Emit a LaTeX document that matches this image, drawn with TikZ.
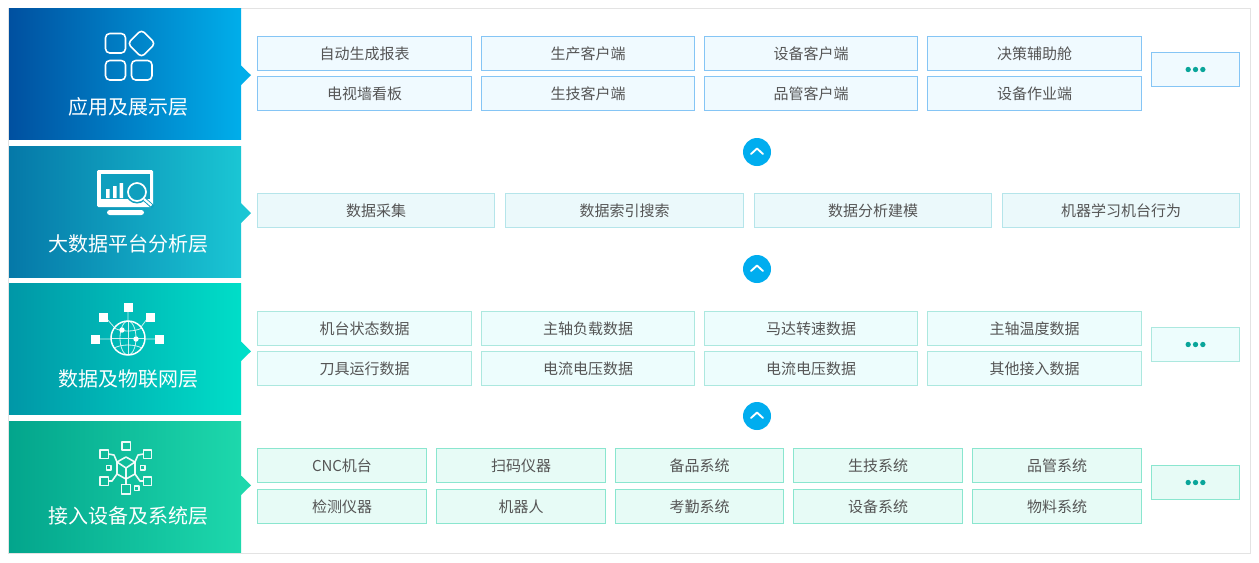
\documentclass[tikz,border=0pt]{standalone}
\usepackage{fontspec}
\setmainfont{Noto Sans CJK SC}
\usetikzlibrary{shapes.geometric}
\definecolor{txt}{HTML}{555555}
\definecolor{frameC}{HTML}{E3E3E3}
\definecolor{aL}{HTML}{0050A0}\definecolor{aR}{HTML}{00AEEA}
\definecolor{bL}{HTML}{0578A8}\definecolor{bR}{HTML}{1AC6D4}
\definecolor{cL}{HTML}{0097A7}\definecolor{cR}{HTML}{00DEC8}
\definecolor{dL}{HTML}{03A58C}\definecolor{dR}{HTML}{1DD8AC}
\definecolor{bMid}{HTML}{0F9FBE}
\tikzset{
  x=0.75pt,y=-0.75pt,
  cellbase/.style={rectangle,draw,line width=0.75pt,inner sep=0pt,outer sep=0pt,text=txt,font=\fontsize{11.25pt}{13pt}\selectfont},
  cellA/.style={cellbase,draw=cA,fill=fA},
  cellB/.style={cellbase,draw=cB,fill=fB},
  cellC/.style={cellbase,draw=cC,fill=fC},
  cellD/.style={cellbase,draw=cD,fill=fD},
  panelbox/.style={rectangle,inner sep=0pt,outer sep=0pt,minimum width=174pt,minimum height=98.7pt,shading angle=90},
  paneltext/.style={text=white,font=\fontsize{15pt}{18pt}\selectfont,inner sep=0pt},
  upbtn/.style={circle,fill=upC,minimum size=21pt,inner sep=0pt,outer sep=0pt},
  chev/.style={white,line width=1.4pt,line cap=round,line join=round},
  moredot/.style={circle,fill=dotC,minimum size=4pt,inner sep=0pt},
  icon/.style={white,line width=1.2pt,line join=round},
  thin icon/.style={white,line width=0.6pt,opacity=0.8},
}
\definecolor{cA}{HTML}{85C5F5}\definecolor{fA}{HTML}{F0FAFF}
\definecolor{cB}{HTML}{B5E5EA}\definecolor{fB}{HTML}{EBF9FB}
\definecolor{cC}{HTML}{ACE8DF}\definecolor{fC}{HTML}{EDFDFD}
\definecolor{cD}{HTML}{8AE6CF}\definecolor{fD}{HTML}{E7FBF6}
\definecolor{upC}{HTML}{00ADEF}
\definecolor{dotC}{HTML}{0AA59A}
% name, style, x1, y1, x2, y2, text
\newcommand\cellbox[7]{%
  \node[#2,minimum width={(#5-#3-1)*0.75pt},minimum height={(#6-#4-1)*0.75pt}] (#1) at ({(#3+#5)/2},{(#4+#6)/2}) {\raisebox{-0.6pt}{#7}};}
% name, style, x1, y1, x2, y2 : the "more" box with three dots
\newcommand\morebox[6]{%
  \cellbox{#1}{#2}{#3}{#4}{#5}{#6}{}%
  \node[moredot] (#1dotb) at (#1.center) {};
  \node[moredot,xshift=-5.5pt] (#1dota) at (#1.center) {};
  \node[moredot,xshift=5.5pt] (#1dotc) at (#1.center) {};}
% name, center y
\newcommand\upbutton[2]{%
  \node[upbtn] (#1) at (757,#2) {};
  \draw[chev] ([xshift=-4.5pt,yshift=-1.5pt]#1.center) -- ([yshift=2.6pt]#1.center) -- ([xshift=4.5pt,yshift=-1.5pt]#1.center);}
\begin{document}
\begin{tikzpicture}
\useasboundingbox (0,0) rectangle (1259,562);
\fill[white] (0,0) rectangle (1259,562);
\draw[frameC,line width=0.75pt] (8.5,8.5) rectangle (1250.5,553.5);

% panels
\node[panelbox,left color=aL,right color=aR] (p1) at (125,73.8) {};
\node[panelbox,left color=bL,right color=bR] (p2) at (125,211.8) {};
\node[panelbox,left color=cL,right color=cR] (p3) at (125,348.8) {};
\node[panelbox,left color=dL,right color=dR] (p4) at (125,486.8) {};
\fill[aR] (241,65.5) -- (251,75.2) -- (241,85) -- cycle;
\fill[bR] (241,203) -- (251,213) -- (241,223) -- cycle;
\fill[cR] (241,341.5) -- (251,351.3) -- (241,361) -- cycle;
\fill[dR] (241,475.5) -- (251,485.3) -- (241,495) -- cycle;
\node[paneltext] (t1) at (128,107) {应用及展示层};
\node[paneltext] (t2) at (128,244) {大数据平台分析层};
\node[paneltext] (t3) at (128,379) {数据及物联网层};
\node[paneltext] (t4) at (128,516) {接入设备及系统层};

% icon 1
\begin{scope}[icon]
\draw[rounded corners=3.2pt] (105.5,33.5) rectangle (125.5,53);
\draw[rounded corners=3.2pt] (105.5,60.5) rectangle (125.5,80);
\draw[rounded corners=3.2pt] (131.5,60.5) rectangle (152,80);
\draw[rounded corners=3pt] (141.5,29.7) -- (155.3,43.5) -- (141.5,57.3) -- (127.7,43.5) -- cycle;
\end{scope}

% icon 2
\fill[white,rounded corners=1pt] (97,170) rectangle (153,207);
\fill[bMid] (100.5,173.5) rectangle (149.5,199);
\fill[white,rounded corners=2pt] (107,210) rectangle (144,215);
\fill[white] (106,189) rectangle (109.5,198) (113,186) rectangle (116.5,198) (119.5,183) rectangle (123,198);
\draw[bMid,line width=3pt] (143.5,198.5) -- (153,207);
\fill[bMid] (137,192) circle (11.5);
\draw[white,line width=1.3pt] (137,192) circle (9);
\draw[white,line width=1.6pt] (144,199) -- (151.5,205.5);

% icon 3
\draw[thin icon] (128,311) -- (128,321) (107,319) -- (114,327) (147,319) -- (141,327) (99,339) -- (111,339) (145,339) -- (155,339);
\draw[white,line width=1.1pt] (128,338) circle (17);
\draw[thin icon] (128,321) -- (128,355) (111,338) -- (145,338);
\draw[thin icon] (128,338) ellipse (8 and 17);
\draw[thin icon] (114,328) .. controls (122,332) and (134,332) .. (142,328);
\draw[thin icon] (114,348) .. controls (122,344) and (134,344) .. (142,348);
\fill[white] (123.5,302.5) rectangle (132.5,311.5);
\fill[white] (98.5,312.5) rectangle (107.5,321.5);
\fill[white] (145.5,312.5) rectangle (154.5,321.5);
\fill[white] (90.5,334.5) rectangle (99.5,343.5);
\fill[white] (154.5,334.5) rectangle (163.5,343.5);
\fill[white] (122,330) circle (2.7) (136,339) circle (2.7);

% icon 4
\begin{scope}[white,line width=1.2pt,line join=round,opacity=0.92]
\draw (126,457) -- (135,462) -- (135,474) -- (126,479) -- (117,474) -- (117,462) -- cycle;
\draw (117,462) -- (126,468) -- (135,462) (126,468) -- (126,479);
\draw (108.5,454) -- (114,455) -- (117,462);
\draw (143.5,454) -- (138,455) -- (135,462);
\draw (108.5,481) -- (112,481) -- (117,474);
\draw (143.5,481) -- (140,481) -- (135,474);
\draw (126,479) -- (126,484.5);
\draw (122,442) rectangle (130.5,450);
\draw (100,450) rectangle (108.5,458.5);
\draw (143.5,450) rectangle (151.5,458.5);
\draw (100,477) rectangle (108.5,485.5);
\draw (143.5,477) rectangle (151.5,485.5);
\draw (121.5,484.5) rectangle (130.5,494);
\draw (106.5,465.5) rectangle (111,470);
\draw (140.5,465.5) rectangle (145,470);
\draw (134.5,486) rectangle (139,490.5);
\end{scope}

% layer 1
\cellbox{a1}{cellA}{257}{36}{472}{71}{自动生成报表}
\cellbox{a2}{cellA}{481}{36}{695}{71}{生产客户端}
\cellbox{a3}{cellA}{704}{36}{918}{71}{设备客户端}
\cellbox{a4}{cellA}{927}{36}{1142}{71}{决策辅助舱}
\cellbox{a5}{cellA}{257}{76}{472}{111}{电视墙看板}
\cellbox{a6}{cellA}{481}{76}{695}{111}{生技客户端}
\cellbox{a7}{cellA}{704}{76}{918}{111}{品管客户端}
\cellbox{a8}{cellA}{927}{76}{1142}{111}{设备作业端}
\morebox{am}{cellA}{1151}{52}{1240}{87}

% layer 2
\cellbox{b1}{cellB}{257}{193}{495}{228}{数据采集}
\cellbox{b2}{cellB}{505}{193}{744}{228}{数据索引搜索}
\cellbox{b3}{cellB}{754}{193}{992}{228}{数据分析建模}
\cellbox{b4}{cellB}{1002}{193}{1240}{228}{机器学习机台行为}

% layer 3
\cellbox{c1}{cellC}{257}{311}{472}{346}{机台状态数据}
\cellbox{c2}{cellC}{481}{311}{695}{346}{主轴负载数据}
\cellbox{c3}{cellC}{704}{311}{918}{346}{马达转速数据}
\cellbox{c4}{cellC}{927}{311}{1142}{346}{主轴温度数据}
\cellbox{c5}{cellC}{257}{351}{472}{386}{刀具运行数据}
\cellbox{c6}{cellC}{481}{351}{695}{386}{电流电压数据}
\cellbox{c7}{cellC}{704}{351}{918}{386}{电流电压数据}
\cellbox{c8}{cellC}{927}{351}{1142}{386}{其他接入数据}
\morebox{cm}{cellC}{1151}{327}{1240}{362}

% layer 4
\cellbox{d1}{cellD}{257}{448}{427}{483}{CNC机台}
\cellbox{d2}{cellD}{436}{448}{606}{483}{扫码仪器}
\cellbox{d3}{cellD}{615}{448}{784}{483}{备品系统}
\cellbox{d4}{cellD}{793}{448}{963}{483}{生技系统}
\cellbox{d5}{cellD}{972}{448}{1142}{483}{品管系统}
\cellbox{d6}{cellD}{257}{489}{427}{524}{检测仪器}
\cellbox{d7}{cellD}{436}{489}{606}{524}{机器人}
\cellbox{d8}{cellD}{615}{489}{784}{524}{考勤系统}
\cellbox{d9}{cellD}{793}{489}{963}{524}{设备系统}
\cellbox{d10}{cellD}{972}{489}{1142}{524}{物料系统}
\morebox{dm}{cellD}{1151}{465}{1240}{500}

\upbutton{u1}{152}
\upbutton{u2}{269}
\upbutton{u3}{416}
\end{tikzpicture}
\end{document}
